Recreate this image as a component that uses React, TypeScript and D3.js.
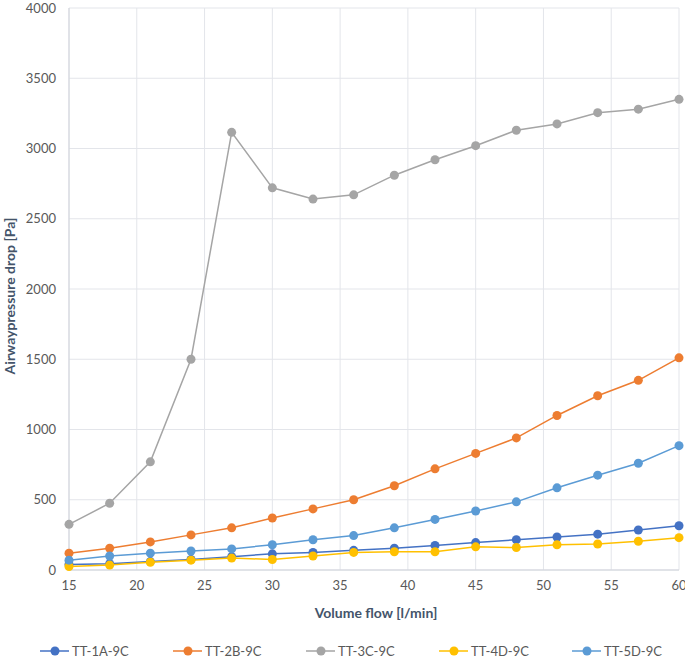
import React from 'react';
import * as d3 from 'd3';

const flows = [15, 18, 21, 24, 27, 30, 33, 36, 39, 42, 45, 48, 51, 54, 57, 60];

const tt1A = [40, 45, 60, 75, 95, 115, 125, 140, 155, 175, 195, 215, 235, 255, 285, 315];
const tt2B = [120, 155, 200, 250, 300, 370, 435, 500, 600, 720, 830, 940, 1100, 1240, 1350, 1510];
const tt3C = [325, 475, 770, 1500, 3115, 2720, 2640, 2670, 2810, 2920, 3020, 3130, 3175, 3255, 3280, 3350];
const tt4D = [25, 35, 55, 70, 85, 75, 100, 125, 130, 130, 165, 160, 180, 185, 205, 230];
const tt5D = [70, 100, 120, 135, 150, 180, 215, 245, 300, 360, 420, 485, 585, 675, 760, 885];

const seriesNames = ['TT-1A-9C', 'TT-2B-9C', 'TT-3C-9C', 'TT-4D-9C', 'TT-5D-9C'];
const seriesValues = [tt1A, tt2B, tt3C, tt4D, tt5D];
const colors = ['#4472C4', '#ED7D31', '#A5A5A5', '#FFC000', '#5B9BD5'];

const xTicks = [15, 20, 25, 30, 35, 40, 45, 50, 55, 60];
const yTicks = [0, 500, 1000, 1500, 2000, 2500, 3000, 3500, 4000];

const W = 685;
const H = 660;
const margin = { left: 69, right: 6, top: 8, bottom: 90 };
const font = 'Lato, "Open Sans", sans-serif';

const App = () => {
  const x = d3.scaleLinear().domain([15, 60]).range([margin.left, W - margin.right]);
  const y = d3.scaleLinear().domain([0, 4000]).range([H - margin.bottom, margin.top]);
  const line = d3
    .line<number>()
    .x((d, i) => x(flows[i]))
    .y((d) => y(d));

  return (
    <svg width={W} height={H} style={{ position: 'absolute', left: 0, top: 0 }}>
      <rect width={W} height={H} fill="#fff" />
      {yTicks.map((t) => (
        <g key={'y' + t}>
          <line x1={x(15)} x2={x(60)} y1={y(t)} y2={y(t)} stroke="#E3E5EA" strokeWidth={1} />
          <text x={56} y={y(t)} dy="0.35em" textAnchor="end" fontSize={13} fill="#595959" fontFamily={font}>
            {t}
          </text>
        </g>
      ))}
      {xTicks.map((t) => (
        <g key={'x' + t}>
          <line x1={x(t)} x2={x(t)} y1={y(0)} y2={y(4000)} stroke="#E3E5EA" strokeWidth={1} />
          <text x={x(t)} y={y(0) + 20} textAnchor="middle" fontSize={13} fill="#595959" fontFamily={font}>
            {t}
          </text>
        </g>
      ))}
      <line x1={x(15)} x2={x(15)} y1={y(0)} y2={y(4000)} stroke="#D0D3DA" />
      <line x1={x(15)} x2={x(60)} y1={y(0)} y2={y(0)} stroke="#D0D3DA" />

      {seriesNames.map((name, s) => (
        <g key={name}>
          <path d={line(seriesValues[s]) || ''} fill="none" stroke={colors[s]} strokeWidth={1.5} />
          {seriesValues[s].map((v, i) => (
            <circle key={i} cx={x(flows[i])} cy={y(v)} r={4.5} fill={colors[s]} />
          ))}
        </g>
      ))}

      <text
        transform="translate(15,296) rotate(-90)"
        textAnchor="middle"
        fontSize={14}
        fontWeight="bold"
        fill="#44546A"
        fontFamily={font}
      >
        Airwaypressure drop [Pa]
      </text>
      <text
        x={376}
        y={618}
        textAnchor="middle"
        fontSize={14}
        fontWeight="bold"
        fill="#44546A"
        fontFamily={font}
      >
        Volume flow [l/min]
      </text>

      {seriesNames.map((name, i) => {
        const cx = 55 + i * 133;
        return (
          <g key={'leg' + name}>
            <line x1={cx - 15} x2={cx + 14} y1={651} y2={651} stroke={colors[i]} strokeWidth={1.5} />
            <circle cx={cx} cy={651} r={4.5} fill={colors[i]} />
            <text x={cx + 17} y={651} dy="0.35em" fontSize={13} fill="#595959" fontFamily={font}>
              {name}
            </text>
          </g>
        );
      })}
    </svg>
  );
};

export default App;
